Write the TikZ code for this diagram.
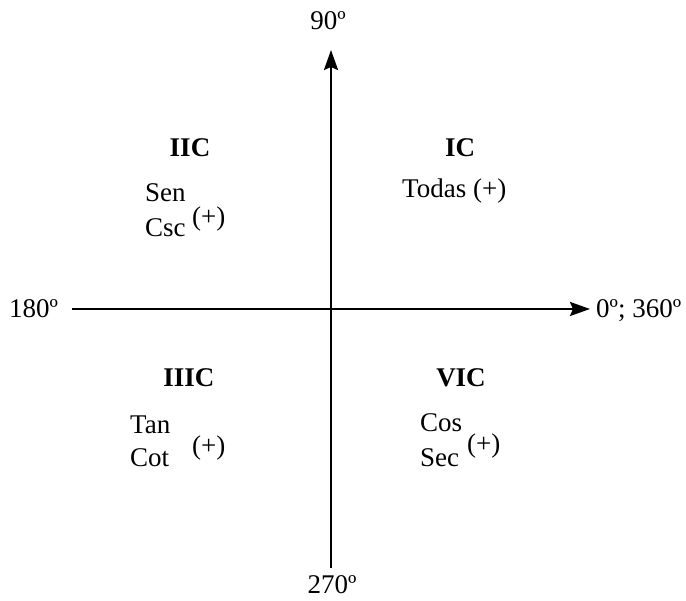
\documentclass[tikz,border=0pt]{standalone}
\usepackage{fontspec}
\setmainfont{Liberation Serif}
\usetikzlibrary{arrows.meta}
\begin{document}
\begin{tikzpicture}[x=1pt,y=-1pt,
  lbl/.style={inner sep=0pt,font=\fontsize{27}{32}\selectfont},
  qd/.style={lbl,anchor=base,font=\fontsize{27}{32}\selectfont\bfseries},
  tx/.style={lbl,anchor=base west},
  axis/.style={line width=2.4pt,-{Stealth[length=20pt,width=14pt,inset=3pt]}}]
\useasboundingbox (0,0) rectangle (686,601);
% axes
\coordinate (L) at (72,309);
\coordinate (R) at (590,309);
\coordinate (B) at (331,568);
\coordinate (T) at (331,50);
\draw[axis] (L) -- (R);
\draw[axis] (B) -- (T);
% axis labels
\node[tx] (a180) at (9,318) {180º};
\node[tx] (a0) at (596,318) {0º; 360º};
\node[lbl,anchor=base] (a90) at (328,30) {90º};
\node[lbl,anchor=base] (a270) at (332,594) {270º};
% quadrant titles
\node[qd] (q2) at (190,157) {IIC};
\node[qd] (q1) at (460,157) {IC};
\node[qd] (q3) at (189,387) {IIIC};
\node[qd] (q4) at (461,387) {VIC};
% quadrant II
\node[tx] (sen) at (145,202) {Sen};
\node[tx] (csc) at (145,237) {Csc};
\node[tx] (p2) at (192,226) {(+)};
% quadrant I
\node[tx] (todas) at (402,198) {Todas (+)};
% quadrant III
\node[tx] (tan) at (130,434) {Tan};
\node[tx] (cot) at (130,467) {Cot};
\node[tx] (p3) at (192,455) {(+)};
% quadrant IV
\node[tx] (cos) at (420,432) {Cos};
\node[tx] (sec) at (420,467) {Sec};
\node[tx] (p4) at (467,453) {(+)};
\end{tikzpicture}
\end{document}
